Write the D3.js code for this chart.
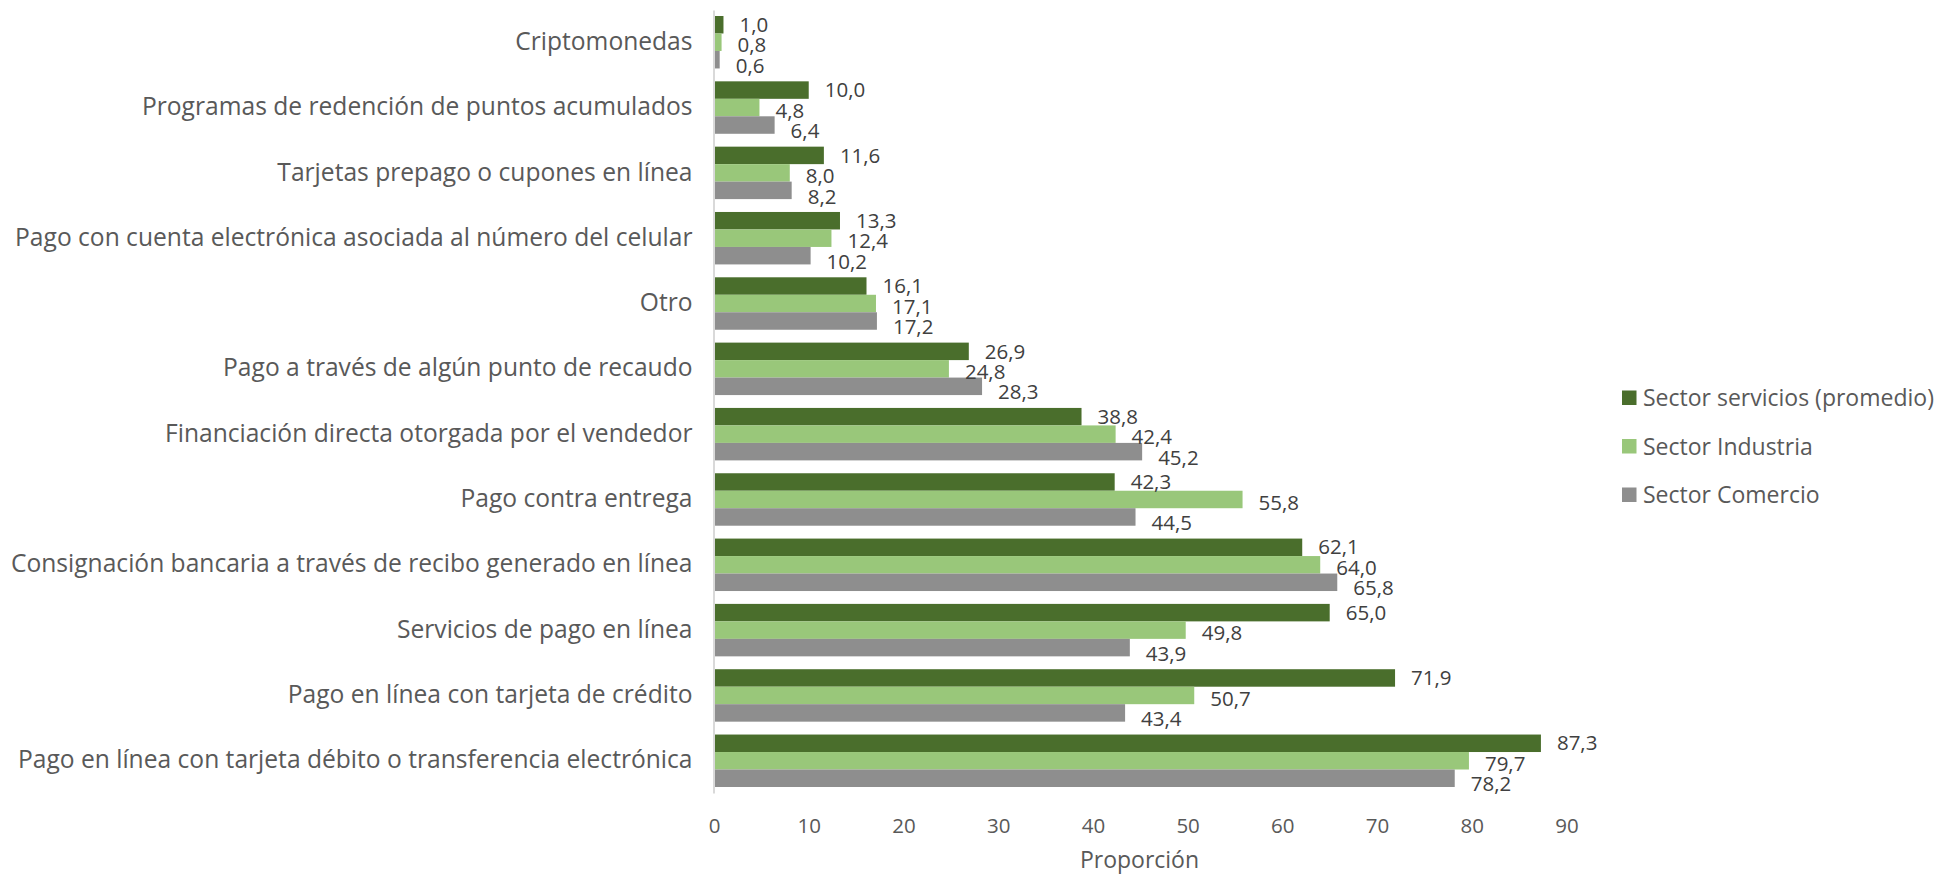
<!DOCTYPE html>
<html>
<head>
<meta charset="utf-8">
<script src="https://cdn.jsdelivr.net/npm/d3@7"></script>
<style>
  body { margin: 0; background: #fff; }
  svg { display: block; font-family: "Open Sans", sans-serif; }
</style>
</head>
<body>
<svg id="chart" width="1941" height="876"></svg>
<script>
// categories from top to bottom
const categories = [
  "Criptomonedas",
  "Programas de redención de puntos acumulados",
  "Tarjetas prepago o cupones en línea",
  "Pago con cuenta electrónica asociada al número del celular",
  "Otro",
  "Pago a través de algún punto de recaudo ",
  "Financiación directa otorgada por el vendedor",
  "Pago contra entrega",
  "Consignación bancaria a través de recibo generado en línea",
  "Servicios de pago en línea",
  "Pago en línea con tarjeta de crédito",
  "Pago en línea con tarjeta débito o transferencia electrónica"
];
const seriesNames = ["Sector servicios (promedio)", "Sector Industria", "Sector Comercio"];
const servicios = [1.0, 10.0, 11.6, 13.3, 16.1, 26.9, 38.8, 42.3, 62.1, 65.0, 71.9, 87.3];
const industria = [0.8, 4.8, 8.0, 12.4, 17.1, 24.8, 42.4, 55.8, 64.0, 49.8, 50.7, 79.7];
const comercio  = [0.6, 6.4, 8.2, 10.2, 17.2, 28.3, 45.2, 44.5, 65.8, 43.9, 43.4, 78.2];
const xTicks = [0, 10, 20, 30, 40, 50, 60, 70, 80, 90];
const colors = ["#4a6e2c", "#99c77a", "#8e8e8e"];

const seriesValues = [servicios, industria, comercio];
const fmt = v => v.toFixed(1).replace(".", ",");

const svg = d3.select("#chart");
const plot = { left: 714, right: 1566.5, top: 10, bottom: 793 };

const x = d3.scaleLinear().domain([0, 90]).range([plot.left, plot.right]);
const y = d3.scaleBand().domain(categories).range([plot.top, plot.bottom])
    .paddingInner(0.197).paddingOuter(0.092);
const ySub = d3.scaleBand().domain(seriesNames).range([0, y.bandwidth()]);

// bars
const groups = svg.append("g").selectAll("g")
    .data(categories)
    .join("g")
    .attr("transform", d => "translate(0," + y(d) + ")");

groups.selectAll("rect")
    .data((c, i) => seriesNames.map((s, k) => ({ s, k, v: seriesValues[k][i] })))
    .join("rect")
    .attr("x", x(0))
    .attr("y", d => ySub(d.s))
    .attr("width", d => x(d.v) - x(0))
    .attr("height", ySub.bandwidth())
    .attr("fill", d => colors[d.k]);

// data labels (Excel-like: just past the bar end, nudged down a bit)
const labelDy = [0, 3, 6];
groups.selectAll("text")
    .data((c, i) => seriesNames.map((s, k) => ({ s, k, v: seriesValues[k][i] })))
    .join("text")
    .attr("x", d => x(d.v) + 16)
    .attr("y", d => ySub(d.s) + ySub.bandwidth() / 2 + labelDy[d.k])
    .attr("dy", "0.35em")
    .attr("font-size", 20.5)
    .attr("fill", "#404040")
    .text(d => fmt(d.v));

// y axis
const yAxis = d3.axisLeft(y).tickSize(0).tickPadding(21);
const gy = svg.append("g").attr("transform", "translate(" + (plot.left - 0.5) + ",0)").call(yAxis);
gy.select(".domain").attr("stroke", "#d9d9d9").attr("stroke-width", 2);
gy.selectAll(".tick text")
    .attr("font-size", 24.6)
    .attr("fill", "#595959")
    .attr("dy", "0.31em")
    .attr("font-family", "Open Sans, sans-serif");

// x axis (labels only)
const xAxis = d3.axisBottom(x).tickValues(xTicks).tickSize(0).tickPadding(0);
const gx = svg.append("g").attr("transform", "translate(0,818)").call(xAxis);
gx.select(".domain").remove();
gx.selectAll(".tick text")
    .attr("font-size", 20.5)
    .attr("fill", "#595959")
    .attr("font-family", "Open Sans, sans-serif");

svg.append("text")
    .attr("x", 1139.5)
    .attr("y", 868)
    .attr("text-anchor", "middle")
    .attr("font-size", 23)
    .attr("fill", "#595959")
    .text("Proporción");

// legend
const legend = svg.append("g").selectAll("g")
    .data(seriesNames)
    .join("g")
    .attr("transform", (d, i) => "translate(1622," + (398 + i * 48.5) + ")");
legend.append("rect")
    .attr("x", 0).attr("y", -7.5)
    .attr("width", 14.5).attr("height", 14.5)
    .attr("fill", (d, i) => colors[i]);
legend.append("text")
    .attr("x", 21)
    .attr("dy", "0.35em")
    .attr("font-size", 23)
    .attr("fill", "#595959")
    .text(d => d);
</script>
</body>
</html>
